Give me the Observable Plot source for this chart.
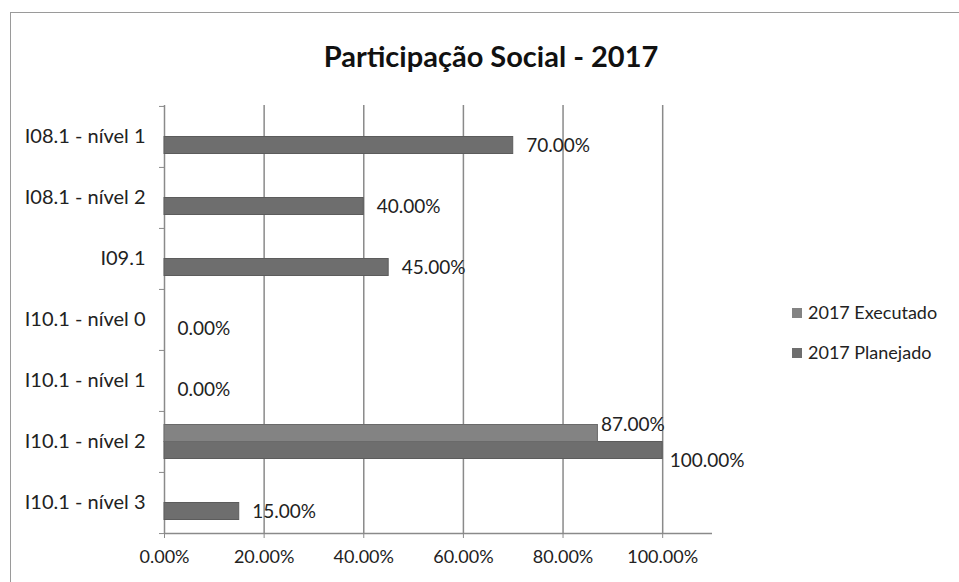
<!DOCTYPE html>
<html><head><meta charset="utf-8">
<script src="https://cdn.jsdelivr.net/npm/d3@7"></script>
<script src="https://cdn.jsdelivr.net/npm/@observablehq/plot@0.6"></script>
<style>
body{margin:0;background:#fff;}
#wrap{position:relative;width:959px;height:582px;overflow:hidden;font-family:Lato, sans-serif;color:#222;}
#frame{position:absolute;left:10px;top:12px;width:1000px;height:700px;border:1.5px solid #9a9a9a;box-sizing:border-box;}
#title{position:absolute;left:0;width:982px;top:41px;text-align:center;font-weight:bold;font-size:29px;line-height:29px;color:#111;}
.leg{position:absolute;left:792px;font-size:18px;line-height:18px;white-space:nowrap;}
.leg span{display:inline-block;width:10px;height:10px;margin-right:6px;vertical-align:1px;}
#chart{position:absolute;left:0;top:0;}
</style></head>
<body>
<div id="wrap">
  <div id="frame"></div>
  <div id="chart"></div>
  <div id="title">Participação Social - 2017</div>
  <div id="legend"></div>
</div>
<script>
const categories = ["I08.1 - nível 1","I08.1 - nível 2","I09.1","I10.1 - nível 0","I10.1 - nível 1","I10.1 - nível 2","I10.1 - nível 3"];
const seriesNames = ["2017 Executado","2017 Planejado"];
const executado = [null,null,null,null,null,0.87,null];
const planejado = [0.70,0.40,0.45,0.00,0.00,1.00,0.15];
const xTicks = [0,0.2,0.4,0.6,0.8,1.0];
const xMax = 1.1;

const colors = {"2017 Executado":"#838383","2017 Planejado":"#6e6e6e"};
const fmt = d3.format(".2%");

const exec = categories.map((c,i)=>({category:c, value:executado[i]})).filter(d=>d.value!=null);
const plan = categories.map((c,i)=>({category:c, value:planejado[i]})).filter(d=>d.value!=null);

const W=959, H=582, mL=164, mR=247, mT=105, mB=49;
const bw = (H-mT-mB)/categories.length;
const gridC = "#8a8a8a";

const chart = Plot.plot({
  width:W, height:H, marginLeft:mL, marginRight:mR, marginTop:mT, marginBottom:mB,
  style:{fontFamily:"Lato, sans-serif", fontSize:"19px", color:"#222", background:"transparent", overflow:"visible"},
  x:{domain:[0,xMax], label:null},
  y:{domain:categories, padding:0, label:null},
  marks:[
    Plot.gridX(xTicks.slice(1), {stroke:gridC, strokeOpacity:1, strokeWidth:1.5}),
    Plot.ruleX([0], {stroke:gridC, strokeWidth:1.5}),
    Plot.ruleY([categories[categories.length-1]], {x1:0, x2:xMax, dy:bw/2, stroke:gridC, strokeWidth:1.5}),
    Plot.axisY({tickSize:0, tickPadding:19, fontSize:20, fill:"#222"}),
    Plot.axisY({tickSize:5, tickFormat:()=>"", dy:-bw/2, stroke:gridC}),
    Plot.axisY([categories[categories.length-1]], {tickSize:5, tickFormat:()=>"", dy:bw/2, stroke:gridC}),
    Plot.axisX(xTicks, {tickFormat:fmt, tickSize:5, tickPadding:12, fontSize:18, stroke:gridC, fill:"#222"}),
    Plot.barX(plan, {x:"value", y:"category", fill:colors["2017 Planejado"], stroke:"#5c5c5c", strokeWidth:1, insetTop:30.5, insetBottom:13.5}),
    Plot.barX(exec, {x:"value", y:"category", fill:colors["2017 Executado"], stroke:"#6a6a6a", strokeWidth:1, insetTop:13.5, insetBottom:30.5}),
    Plot.text(plan.filter(d=>d.value<1), {x:"value", y:"category", text:d=>fmt(d.value), textAnchor:"start", dx:13, dy:9, fontSize:19, fill:"#222"}),
    Plot.text(plan.filter(d=>d.value>=1), {x:"value", y:"category", text:d=>fmt(d.value), textAnchor:"start", dx:7, dy:19, fontSize:19, fill:"#222"}),
    Plot.text(exec, {x:"value", y:"category", text:d=>fmt(d.value), textAnchor:"start", dx:3, dy:-17, fontSize:19, fill:"#222"})
  ]
});
document.getElementById("chart").appendChild(chart);

const legend = document.getElementById("legend");
const legTops = [303, 343];
seriesNames.forEach((s,i)=>{
  const div = document.createElement("div");
  div.className = "leg";
  div.style.top = legTops[i] + "px";
  div.innerHTML = `<span style="background:${colors[s]}"></span>${s}`;
  legend.appendChild(div);
});
</script>
</body></html>
